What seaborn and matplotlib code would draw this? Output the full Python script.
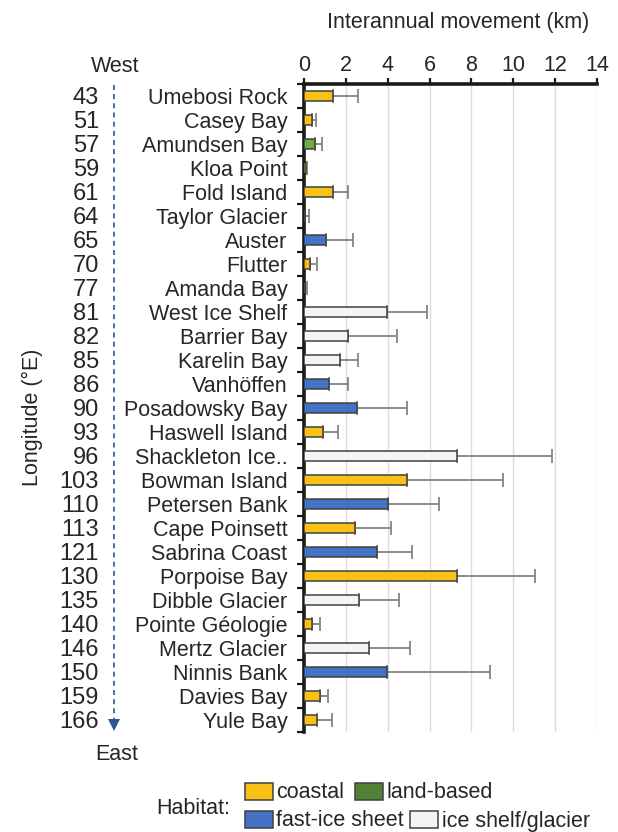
import matplotlib
matplotlib.use("Agg")
import matplotlib.pyplot as plt
import matplotlib.transforms as mtransforms
from matplotlib.lines import Line2D
from matplotlib.patches import Patch
from matplotlib.ticker import FixedLocator
import numpy as np
import pandas as pd
import seaborn as sns

# ---- data -------------------------------------------------------------
sites = ["Umebosi Rock", "Casey Bay", "Amundsen Bay", "Kloa Point", "Fold Island",
         "Taylor Glacier", "Auster", "Flutter", "Amanda Bay", "West Ice Shelf",
         "Barrier Bay", "Karelin Bay", "Vanhöffen", "Posadowsky Bay", "Haswell Island",
         "Shackleton Ice..", "Bowman Island", "Petersen Bank", "Cape Poinsett",
         "Sabrina Coast", "Porpoise Bay", "Dibble Glacier", "Pointe Géologie",
         "Mertz Glacier", "Ninnis Bank", "Davies Bay", "Yule Bay"]
longitudes = [43, 51, 57, 59, 61, 64, 65, 70, 77, 81, 82, 85, 86, 90, 93, 96,
              103, 110, 113, 121, 130, 135, 140, 146, 150, 159, 166]
habitats = ["coastal", "coastal", "land-based", "coastal", "coastal",
            "land-based", "fast-ice sheet", "coastal", "fast-ice sheet", "ice shelf/glacier",
            "ice shelf/glacier", "ice shelf/glacier", "fast-ice sheet", "fast-ice sheet", "coastal",
            "ice shelf/glacier", "coastal", "fast-ice sheet", "coastal",
            "fast-ice sheet", "coastal", "ice shelf/glacier", "coastal",
            "ice shelf/glacier", "fast-ice sheet", "coastal", "coastal"]
movement = [1.39, 0.38, 0.53, 0.10, 1.39, 0.07, 1.05, 0.29, 0.06, 3.95,
            2.08, 1.73, 1.20, 2.51, 0.89, 7.30, 4.92, 4.01, 2.46,
            3.47, 7.30, 2.62, 0.38, 3.12, 3.95, 0.75, 0.62]
movement_sd = [1.18, 0.18, 0.32, 0.06, 0.73, 0.15, 1.31, 0.33, 0.10, 1.91,
               2.34, 0.83, 0.92, 2.39, 0.74, 4.57, 4.60, 2.46, 1.69,
               1.67, 3.74, 1.90, 0.39, 1.96, 4.92, 0.38, 0.74]
xticks = [0, 2, 4, 6, 8, 10, 12, 14]

habitat_order = ["coastal", "land-based", "fast-ice sheet", "ice shelf/glacier"]
bar_colors = {"coastal": "#FBC015", "land-based": "#70AD47",
              "fast-ice sheet": "#4472C4", "ice shelf/glacier": "#F3F5F4"}
legend_colors = {"coastal": "#FBC015", "land-based": "#548235",
                 "fast-ice sheet": "#4472C4", "ice shelf/glacier": "#F3F5F4"}

df = pd.DataFrame({"site": sites, "lon": longitudes, "habitat": habitats,
                   "movement": movement, "sd": movement_sd})

# ---- style ------------------------------------------------------------
sns.set_style("white")
plt.rcParams["font.family"] = ["Liberation Sans", "DejaVu Sans"]
TXT = "#262626"
EDGE = "#404040"
FS = 15.5

fig = plt.figure(figsize=(6.18, 8.32), dpi=100)
W, H = 618, 832
ax = fig.add_axes([304 / W, 1 - 732 / H, (597 - 304) / W, (732 - 84) / H])

sns.barplot(data=df, x="movement", y="site", hue="habitat", order=sites,
            hue_order=habitat_order, palette=bar_colors, dodge=False,
            orient="h", width=0.43, edgecolor=EDGE, linewidth=1.1,
            saturation=1, errorbar=None, legend=False, ax=ax, zorder=3)

ypos = np.arange(len(sites))
ax.errorbar(df["movement"], ypos, xerr=[np.zeros(len(sites)), df["sd"]],
            fmt="none", ecolor="#7a7a7a", elinewidth=1.2, capsize=5,
            capthick=1.2, zorder=2)

ax.set_xlim(0, 14)
ax.set_ylim(len(sites) - 0.5, -0.5)
ax.set_axisbelow(True)
ax.xaxis.grid(True, color="#dcdcdc", linewidth=1.0)
ax.yaxis.grid(False)

# top x axis
ax.xaxis.tick_top()
ax.xaxis.set_label_position("top")
ax.set_xticks(xticks)
ax.tick_params(axis="x", which="major", direction="out", length=4, width=1.6,
               color="#1a1a1a", labelsize=FS, labelcolor=TXT, pad=2,
               top=True, bottom=False)
ax.set_xlabel("Interannual movement (km)", fontsize=FS, color=TXT, labelpad=19)
ax.xaxis.label.set_x((458 - 304) / (597 - 304))

# left axis: site names, separator ticks between rows
ax.set_ylabel("")
ax.set_yticks(ypos)
ax.set_yticklabels(sites)
ax.yaxis.set_minor_locator(FixedLocator(np.arange(-0.5, len(sites), 1.0)))
ax.tick_params(axis="y", which="major", length=0, labelsize=FS,
               labelcolor=TXT, pad=12, left=True)
ax.tick_params(axis="y", which="minor", length=5, width=1.6, color="#1a1a1a",
               direction="out", left=True)

for side in ["right", "bottom"]:
    ax.spines[side].set_visible(False)
for side in ["left", "top"]:
    ax.spines[side].set_linewidth(2.6)
    ax.spines[side].set_color("#1a1a1a")

# longitude column
trans = mtransforms.blended_transform_factory(fig.transFigure, ax.transData)
for i, lon in enumerate(longitudes):
    ax.text(99 / W, i, str(lon), transform=trans, ha="right",
            va="center_baseline", fontsize=17, color=TXT, clip_on=False)

fig.text(32 / W, 1 - 417 / H, "Longitude (°E)", rotation=90, ha="center",
         va="center", fontsize=FS, color=TXT)
fig.text(115 / W, 1 - 66 / H, "West", ha="center", va="center",
         fontsize=FS, color=TXT)
fig.text(117 / W, 1 - 755 / H, "East", ha="center", va="center",
         fontsize=FS, color=TXT)

# west-to-east arrow
ax_x = 114 / W
fig.add_artist(Line2D([ax_x, ax_x], [1 - 85 / H, 1 - 722 / H],
                      transform=fig.transFigure, color="#2F5597",
                      linewidth=1.2, linestyle=(0, (3, 2.5))))
fig.add_artist(Line2D([ax_x], [1 - 725 / H], transform=fig.transFigure,
                      marker="v", markersize=9, color="#2F5597",
                      markeredgewidth=0, linestyle="none"))

# habitat legend
fig.text(193 / W, 1 - 808 / H, "Habitat:", ha="center", va="center",
         fontsize=FS, color=TXT)


def legend_row(labels, ycenter, spacing):
    handles = [Patch(facecolor=legend_colors[h], edgecolor=EDGE, linewidth=1.1,
                     label=h) for h in labels]
    leg = fig.legend(handles=handles, loc="center left",
                     bbox_to_anchor=(245 / W, 1 - ycenter / H), ncol=2,
                     frameon=False, fontsize=FS, handlelength=1.3,
                     handleheight=0.84, handletextpad=0.15,
                     columnspacing=spacing, borderpad=0, borderaxespad=0)
    for t in leg.get_texts():
        t.set_color(TXT)
    return leg


legend_row(["coastal", "land-based"], 793, 0.5)
legend_row(["fast-ice sheet", "ice shelf/glacier"], 821, 0.3)

fig.savefig("out.png", dpi=100)
